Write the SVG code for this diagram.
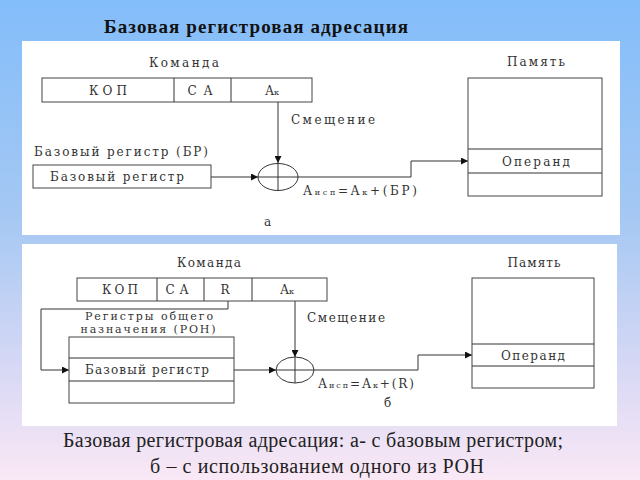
<svg xmlns="http://www.w3.org/2000/svg" width="640" height="480" viewBox="0 0 640 480">
<defs>
<linearGradient id="bg" x1="0" y1="0" x2="0" y2="1">
<stop offset="0" stop-color="#83BDFA"/>
<stop offset="0.45" stop-color="#A5C8F3"/>
<stop offset="0.8" stop-color="#DCDAF5"/>
<stop offset="1" stop-color="#FAE8F5"/>
</linearGradient>
<marker id="arr" viewBox="0 0 10 10" refX="10" refY="5" markerWidth="7" markerHeight="7" markerUnits="userSpaceOnUse" orient="auto">
<path d="M0,0 L10,5 L0,10 z" fill="#111"/>
</marker>
<style>
.ln{fill:none;stroke:#333;stroke-width:1}
.bx{fill:#fff;stroke:#444;stroke-width:1}
.t{font-family:"DejaVu Serif",serif;font-size:12px;fill:#333}
.m{text-anchor:middle}
.s{font-size:8px}
.title{font-family:"Liberation Serif",serif;font-size:19px;font-weight:bold;fill:#111}
.cap{font-family:"Liberation Serif","Times New Roman",serif;font-size:20px;fill:#222;text-anchor:middle}
</style>
</defs>
<rect width="640" height="480" fill="url(#bg)"/>
<text class="title" x="104" y="33" textLength="304">Базовая регистровая адресация</text>

<rect x="22" y="41" width="598" height="194" fill="#fff"/>
<rect x="22" y="244" width="595" height="182" fill="#fff"/>

<g id="connectors">
<line class="ln" x1="278" y1="102" x2="278" y2="163" marker-end="url(#arr)"/>
<line class="ln" x1="211" y1="177" x2="258" y2="177" marker-end="url(#arr)"/>
<polyline class="ln" points="258,177 411,177 411,161 468,161" marker-end="url(#arr)"/>
<line class="ln" x1="278" y1="163" x2="278" y2="191"/>
<polyline class="ln" points="228,301 228,309 41,309 41,370 69,370" marker-end="url(#arr)"/>
<line class="ln" x1="234" y1="370" x2="276" y2="370" marker-end="url(#arr)"/>
<line class="ln" x1="295" y1="301" x2="295" y2="357" marker-end="url(#arr)"/>
<line class="ln" x1="295" y1="357" x2="295" y2="383"/>
<polyline class="ln" points="276,370 418,370 418,355 472,355" marker-end="url(#arr)"/>
</g>

<g id="cmd-a">
<text class="t m" x="184" y="67" textLength="70">Команда</text>
<rect class="bx" x="42" y="78" width="270" height="24"/>
<line class="ln" x1="174" y1="78" x2="174" y2="102"/>
<line class="ln" x1="231" y1="78" x2="231" y2="102"/>
<text class="t m" x="108" y="95" textLength="38">КОП</text>
<text class="t m" x="200" y="95" textLength="25">СА</text>
<text class="t m" x="272" y="95">А<tspan class="s">к</tspan></text>
</g>
<g id="adder-a">
<ellipse cx="278" cy="177" rx="20" ry="13.5" fill="none" stroke="#333"/>
</g>
<g id="offset-a"><text class="t" x="291" y="124" textLength="84">Смещение</text></g>
<g id="br-a">
<text class="t" x="34" y="156" textLength="174">Базовый регистр (БР)</text>
<rect class="bx" x="33" y="165" width="178" height="23" fill="none"/>
<text class="t" x="50" y="181" textLength="134">Базовый регистр</text>
</g>
<g id="mem-a">
<text class="t m" x="536" y="66" textLength="58">Память</text>
<rect class="bx" x="468" y="78" width="134" height="118" fill="none"/>
<line class="ln" x1="468" y1="149" x2="602" y2="149"/>
<line class="ln" x1="468" y1="173" x2="602" y2="173"/>
<text class="t m" x="536" y="166" textLength="68">Операнд</text>
</g>
<g id="formula-a"><text class="t" x="303" y="195" textLength="114">А<tspan class="s">исп</tspan>=А<tspan class="s">к</tspan>+(БР)</text></g>
<g id="label-a"><text class="t" x="264" y="226">а</text></g>

<g id="cmd-b">
<text class="t m" x="209" y="267" textLength="64">Команда</text>
<rect class="bx" x="77" y="278" width="250" height="23"/>
<line class="ln" x1="157" y1="278" x2="157" y2="301"/>
<line class="ln" x1="204" y1="278" x2="204" y2="301"/>
<line class="ln" x1="252" y1="278" x2="252" y2="301"/>
<text class="t m" x="120" y="294" textLength="36">КОП</text>
<text class="t m" x="177" y="294" textLength="23">СА</text>
<text class="t m" x="225" y="294">R</text>
<text class="t m" x="287" y="294">А<tspan class="s">к</tspan></text>
</g>
<g id="ron-b">
<text class="t m" x="149" y="320" style="font-size:11px" textLength="128">Регистры общего</text>
<text class="t m" x="148" y="333" style="font-size:11px" textLength="135">назначения (РОН)</text>
<rect class="bx" x="69" y="337" width="165" height="66" fill="none"/>
<line class="ln" x1="69" y1="358" x2="234" y2="358"/>
<line class="ln" x1="69" y1="381" x2="234" y2="381"/>
<text class="t" x="85" y="374" textLength="124">Базовый регистр</text>
</g>
<g id="adder-b">
<ellipse cx="295" cy="370" rx="19" ry="13" fill="none" stroke="#333"/>
</g>
<g id="offset-b"><text class="t" x="307" y="322" textLength="78">Смещение</text></g>
<g id="mem-b">
<text class="t m" x="534" y="267" textLength="53">Память</text>
<rect class="bx" x="472" y="278" width="122" height="110" fill="none"/>
<line class="ln" x1="472" y1="344" x2="594" y2="344"/>
<line class="ln" x1="472" y1="366" x2="594" y2="366"/>
<text class="t m" x="533" y="360" textLength="64">Операнд</text>
</g>
<g id="formula-b"><text class="t" x="318" y="388" textLength="96">А<tspan class="s">исп</tspan>=А<tspan class="s">к</tspan>+(R)</text></g>
<g id="label-b"><text class="t" x="384" y="407">б</text></g>

<text class="cap" x="313" y="447" textLength="500">Базовая регистровая адресация: а- с базовым регистром;</text>
<text class="cap" x="317" y="473" textLength="334">б – с использованием одного из РОН</text>
</svg>
